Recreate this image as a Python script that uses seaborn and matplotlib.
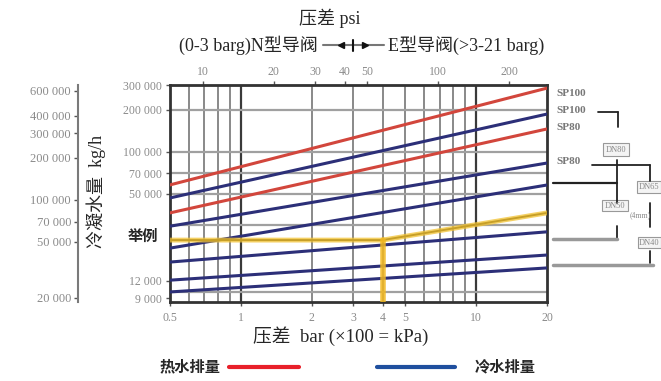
import numpy as np
import pandas as pd
import matplotlib
matplotlib.use("Agg")
import matplotlib.pyplot as plt
import seaborn as sns
from matplotlib.lines import Line2D
from matplotlib.patches import Rectangle
from matplotlib.ticker import NullLocator

# ---------------- data ----------------
bar_ends = [0.5, 20]                       # pressure differential (bar) at chart edges
curve_ids = ["H1", "C1", "H2", "C2", "C3", "C4", "C5", "C6"]
curve_kind = ["hot", "cold", "hot", "cold", "cold", "cold", "cold", "cold"]
flow_low = [58000, 46800, 36600, 29400, 20500, 16300, 12100, 9970]      # kg/h at 0.5 bar
flow_high = [285000, 186000, 145600, 83100, 57900, 26800, 18300, 14800]  # kg/h at 20 bar

example_bar = [0.5, 4, 20]
example_flow = [23400, 23400, 36600]
example_pick_bar = 4

kg_ticks = [300000, 200000, 100000, 70000, 50000, 12000, 9000]
kg_labels = ["300 000", "200 000", "100 000", "70 000", "50 000", "12 000", "9 000"]
lb_ticks = [600000, 400000, 300000, 200000, 100000, 70000, 50000, 20000]
lb_labels = ["600 000", "400 000", "300 000", "200 000", "100 000", "70 000", "50 000", "20 000"]
bar_ticks = [0.5, 1, 2, 3, 4, 5, 10, 20]
bar_labels = ["0.5", "1", "2", "3", "4", "5", "10", "20"]
psi_ticks = [10, 20, 30, 40, 50, 100, 200]
psi_labels = ["10", "20", "30", "40", "50", "100", "200"]
vgrid = [0.6, 0.7, 0.8, 0.9, 1, 2, 3, 4, 5, 6, 7, 8, 9, 10]
hgrid = [200000, 100000, 70000, 50000, 30000, 10000]
size_labels = ["SP100", "SP100", "SP80", "SP80"]

# ---------------- style ----------------
sns.set_style("white")
plt.rcParams["font.family"] = ["Liberation Serif", "Noto Sans CJK SC"]

W, H = 661, 381
fig = plt.figure(figsize=(W / 100, H / 100), dpi=100)


def fx(x):
    return x / W


def fy(y):
    return 1 - y / H


L, R, T, B = 170, 547, 85, 302
ax = fig.add_axes([fx(L), fy(B), fx(R) - fx(L), fy(T) - fy(B)])
ax.set_xscale("log")
ax.set_yscale("log")
ax.set_xlim(0.5, 20)
ax.set_ylim(8450, 300000)

for v in vgrid:
    strong = v in (1, 10)
    ax.axvline(v, color="#3a3a3a" if strong else "#6a6a6a", lw=1.6 if strong else 1.1, zorder=1)
for v in hgrid:
    ax.axhline(v, color="#a0a0a0", lw=1.6, zorder=1)

rows = []
for cid, kind, lo, hi in zip(curve_ids, curve_kind, flow_low, flow_high):
    rows.append({"curve": cid, "kind": kind, "bar": bar_ends[0], "kg": lo})
    rows.append({"curve": cid, "kind": kind, "bar": bar_ends[1], "kg": hi})
df = pd.DataFrame(rows)
palette = {c: ("#d2463c" if k == "hot" else "#2c2f78") for c, k in zip(curve_ids, curve_kind)}
sns.lineplot(data=df, x="bar", y="kg", hue="curve", palette=palette, lw=2.2,
             legend=False, ax=ax, zorder=3, estimator=None, sort=False)

ex = pd.DataFrame({"bar": example_bar, "kg": example_flow})
sns.lineplot(data=ex, x="bar", y="kg", color="#4a3a10", lw=1.4, ax=ax, zorder=4,
             estimator=None, sort=False)
sns.lineplot(data=ex, x="bar", y="kg", color="#f2c230", lw=3.5, alpha=0.75, ax=ax, zorder=5,
             estimator=None, sort=False)
ax.plot([example_pick_bar, example_pick_bar], [8450, example_flow[1]], color="#f2b820",
        lw=4, alpha=0.85, zorder=5)

for s in ax.spines.values():
    s.set_color("#333333")
    s.set_linewidth(2)
    s.set_visible(True)

ax.set_xlabel("")
ax.set_ylabel("")
ax.set_yticks(kg_ticks, labels=kg_labels)
ax.set_xticks(bar_ticks, labels=bar_labels)
ax.yaxis.set_minor_locator(NullLocator())
ax.xaxis.set_minor_locator(NullLocator())
ax.tick_params(axis="both", which="major", length=3, width=1, color="#555555",
               labelsize=8.5, labelcolor="#8a8a8a", direction="out",
               left=True, bottom=True)
ax.tick_params(axis="x", pad=4)
ax.tick_params(axis="y", pad=3)

# outer lb/h axis
lb = ax.secondary_yaxis((78 - L) / (R - L), functions=(lambda v: v * 2.2046, lambda v: v / 2.2046))
lb.set_yticks(lb_ticks, labels=lb_labels)
lb.yaxis.set_minor_locator(NullLocator())
lb.tick_params(axis="y", length=3, width=1, color="#555555", labelsize=9,
               labelcolor="#8a8a8a", pad=2)
lb.spines["left"].set_color("#7a7a7a")
lb.spines["left"].set_linewidth(1.5)

# top psi axis
psi = ax.secondary_xaxis("top", functions=(lambda v: v * 14.5038, lambda v: v / 14.5038))
psi.set_xticks(psi_ticks, labels=psi_labels)
psi.xaxis.set_minor_locator(NullLocator())
psi.tick_params(axis="x", length=3, width=1, color="#555555", labelsize=8.5,
                labelcolor="#8a8a8a", pad=2)

# ---------------- texts ----------------
fig.text(fx(330), fy(18), "压差 psi", ha="center", va="center", fontsize=13)
fig.text(fx(318), fy(45), "(0-3 barg)N型导阀", ha="right", va="center", fontsize=13)
fig.text(fx(388), fy(45), "E型导阀(>3-21 barg)", ha="left", va="center", fontsize=13)
fig.add_artist(Line2D([fx(323), fx(384)], [fy(45), fy(45)], color="#777777", lw=1.5))
fig.add_artist(Line2D([fx(341)], [fy(45)], marker="<", color="#111111", ms=5, lw=0))
fig.add_artist(Line2D([fx(365)], [fy(45)], marker=">", color="#111111", ms=5, lw=0))
fig.add_artist(Line2D([fx(353), fx(353)], [fy(40), fy(51)], color="#111111", lw=1.5))

fig.text(fx(341), fy(336), "压差  bar (×100 = kPa)", ha="center", va="center", fontsize=13.5)
fig.text(fx(96), fy(191), "冷凝水量  kg/h", ha="center", va="center", rotation=90, fontsize=13)
fig.text(fx(143), fy(237), "举例", ha="center", va="center", fontsize=11, fontweight="bold")

# legend
fig.text(fx(190), fy(367), "热水排量", ha="center", va="center", fontsize=11, fontweight="bold")
fig.add_artist(Line2D([fx(229), fx(299)], [fy(367), fy(367)], color="#e8202a", lw=3))
fig.add_artist(Line2D([fx(377), fx(455)], [fy(367), fy(367)], color="#1f4f9e", lw=3))
fig.text(fx(505), fy(367), "冷水排量", ha="center", va="center", fontsize=11, fontweight="bold")

# right-hand size labels and brackets
for lab, yy in zip(size_labels, [93, 110, 128, 162]):
    fig.text(fx(556), fy(yy), lab, ha="left", va="center", fontsize=8,
             color="#777777", fontweight="bold")


def seg(x0, y0, x1, y1, color="#222222", lw=1.3):
    fig.add_artist(Line2D([fx(x0), fx(x1)], [fy(y0), fy(y1)], color=color, lw=lw))


def box(x, y, w, h, text):
    fig.add_artist(Rectangle((fx(x), fy(y + h)), w / W, h / H, facecolor="#f4f4f4",
                             edgecolor="#999999", lw=0.8, transform=fig.transFigure))
    fig.text(fx(x + w / 2), fy(y + h / 2), text, ha="center", va="center",
             fontsize=6, color="#888888")


seg(598, 112, 618, 112)
seg(618, 112, 618, 127)
box(603, 143, 26, 13, "DN80")
seg(592, 165, 650, 165)
seg(650, 165, 650, 181)
seg(617, 160, 617, 203)
seg(553, 183, 617, 183, lw=1.6)
box(637, 181, 24, 12, "DN65")
box(602, 200, 26, 11, "DN50")
fig.text(fx(640), fy(215), "(4mm)", ha="center", va="center", fontsize=5.5, color="#888888")
seg(650, 203, 650, 227)
seg(617, 226, 617, 240)
seg(553, 239, 617, 239, color="#999999", lw=2.5)
box(638, 237, 23, 11, "DN40")
seg(650, 251, 650, 263)
seg(553, 265, 653, 265, color="#999999", lw=2.5)

fig.savefig("out.png", dpi=100)
